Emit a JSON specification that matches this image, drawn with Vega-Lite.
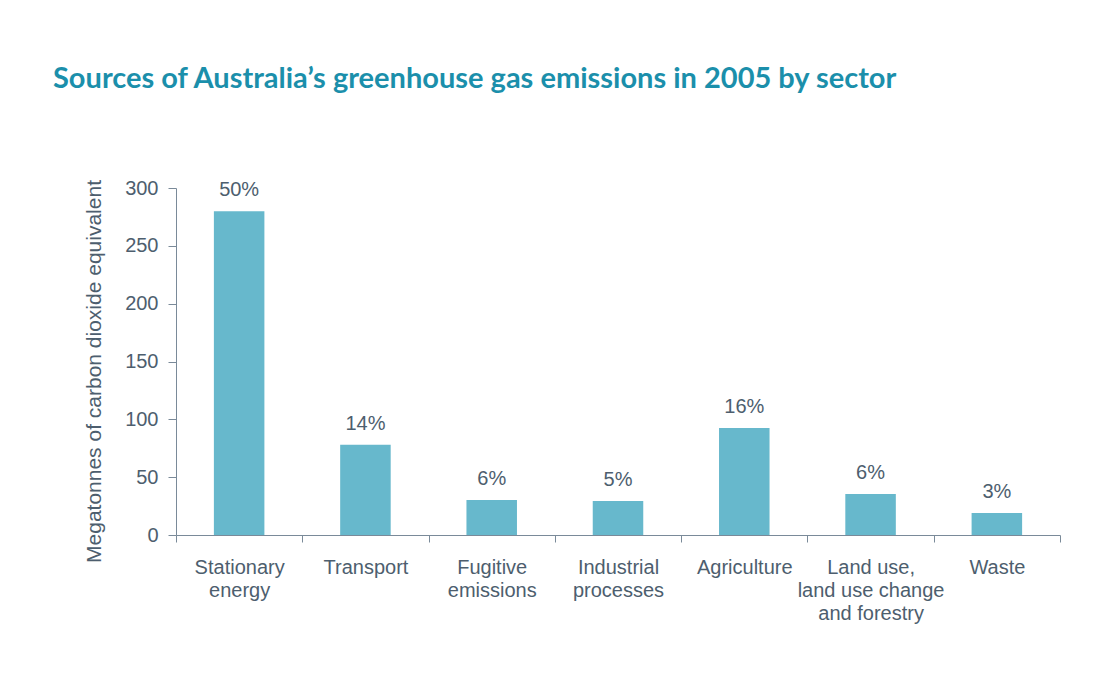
{
  "$schema": "https://vega.github.io/schema/vega-lite/v6.json",
  "width": 884,
  "height": 347,
  "autosize": "none",
  "padding": {"left": 176, "top": 188, "right": 50, "bottom": 154},
  "background": "white",
  "title": {
    "text": "Sources of Australia’s greenhouse gas emissions in 2005 by sector",
    "anchor": "start",
    "frame": "group",
    "dx": -123,
    "offset": 61,
    "baseline": "alphabetic",
    "font": "Lato",
    "fontWeight": "bold",
    "fontSize": 29,
    "color": "#1b8fab"
  },
  "config": {
    "view": {"stroke": null},
    "font": "Liberation Sans"
  },
  "data": {
    "values": [
      {"sector": "Stationary energy", "mt": 280, "share": "50%"},
      {"sector": "Transport", "mt": 78, "share": "14%"},
      {"sector": "Fugitive emissions", "mt": 30.3, "share": "6%"},
      {"sector": "Industrial processes", "mt": 29.4, "share": "5%"},
      {"sector": "Agriculture", "mt": 92.5, "share": "16%"},
      {"sector": "Land use, land use change and forestry", "mt": 35.4, "share": "6%"},
      {"sector": "Waste", "mt": 19, "share": "3%"}
    ]
  },
  "encoding": {
    "x": {
      "field": "sector",
      "type": "nominal",
      "sort": null,
      "scale": {"paddingInner": 0, "paddingOuter": 0},
      "axis": {
        "title": null,
        "labelAngle": 0,
        "tickBand": "extent",
        "tickSize": 7,
        "tickColor": "#7a8a99",
        "domainColor": "#7a8a99",
        "labelColor": "#4d5e6e",
        "labelFont": "Liberation Sans",
        "labelFontSize": 20,
        "labelLineHeight": 23,
        "labelPadding": 15,
        "labelBaseline": "top",
        "labelLimit": 300,
        "labelExpr": "datum.value == 'Stationary energy' ? ['Stationary', 'energy'] : datum.value == 'Fugitive emissions' ? ['Fugitive', 'emissions'] : datum.value == 'Industrial processes' ? ['Industrial', 'processes'] : datum.value == 'Land use, land use change and forestry' ? ['Land use,', 'land use change', 'and forestry'] : datum.value"
      }
    },
    "y": {
      "field": "mt",
      "type": "quantitative",
      "scale": {"domain": [0, 300], "nice": false},
      "axis": {
        "title": "Megatonnes of carbon dioxide equivalent",
        "values": [0, 50, 100, 150, 200, 250, 300],
        "grid": false,
        "tickSize": 8,
        "tickColor": "#7a8a99",
        "domainColor": "#7a8a99",
        "labelColor": "#4d5e6e",
        "labelFont": "Liberation Sans",
        "labelFontSize": 20,
        "labelPadding": 10,
        "titleColor": "#4d5e6e",
        "titleFont": "Liberation Sans",
        "titleFontWeight": "normal",
        "titleFontSize": 21,
        "titlePadding": 20,
        "titleY": 183
      }
    }
  },
  "layer": [
    {
      "mark": {"type": "bar", "color": "#67b8cc", "width": {"band": 0.4}}
    },
    {
      "mark": {
        "type": "text",
        "baseline": "alphabetic",
        "dy": -15,
        "fontSize": 20,
        "font": "Liberation Sans",
        "color": "#4d5e6e"
      },
      "encoding": {"text": {"field": "share"}}
    }
  ]
}
